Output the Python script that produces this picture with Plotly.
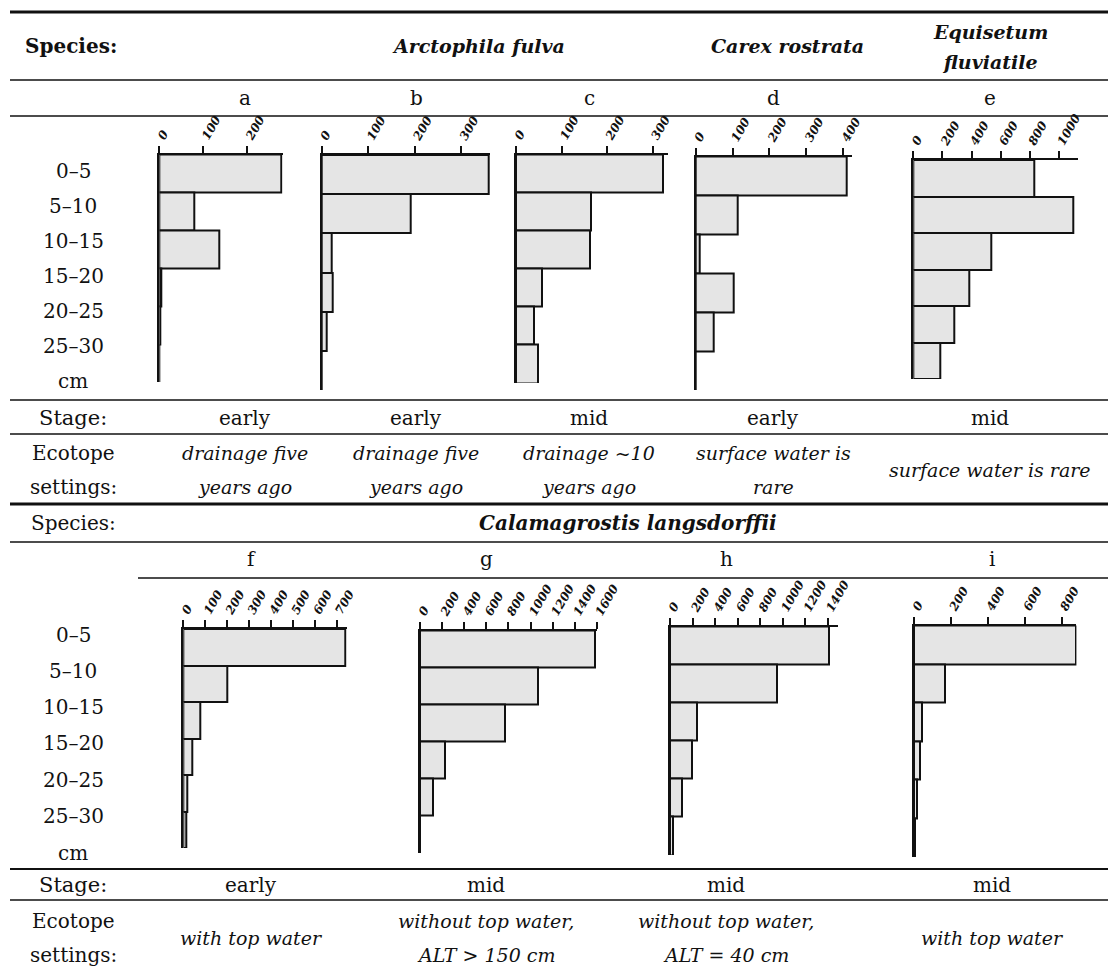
import plotly.graph_objects as go

W, H = 1108, 974

depth_labels = ["0–5", "5–10", "10–15", "15–20", "20–25", "25–30"]

# root counts by soil layer for each sample
roots_a = [278, 79, 136, 5, 2, 1]
roots_b = [360, 192, 21, 24, 11, 0]
roots_c = [322, 165, 163, 57, 40, 49]
roots_d = [409, 115, 10, 102, 50, 0]
roots_e = [829, 1100, 539, 385, 282, 183]
roots_f = [738, 203, 76, 43, 18, 15]
roots_g = [1584, 1065, 769, 226, 115, 0]
roots_h = [1416, 948, 243, 193, 109, 29]
roots_i = [877, 168, 42, 33, 18, 5]

ticks_a = [0, 100, 200]
ticks_b = [0, 100, 200, 300]
ticks_c = [0, 100, 200, 300]
ticks_d = [0, 100, 200, 300, 400]
ticks_e = [0, 200, 400, 600, 800, 1000]
ticks_f = [0, 100, 200, 300, 400, 500, 600, 700]
ticks_g = [0, 200, 400, 600, 800, 1000, 1200, 1400, 1600]
ticks_h = [0, 200, 400, 600, 800, 1000, 1200, 1400]
ticks_i = [0, 200, 400, 600, 800]

panel_letters = ["a", "b", "c", "d", "e", "f", "g", "h", "i"]
panel_values = [roots_a, roots_b, roots_c, roots_d, roots_e,
                roots_f, roots_g, roots_h, roots_i]
panel_ticks = [ticks_a, ticks_b, ticks_c, ticks_d, ticks_e,
               ticks_f, ticks_g, ticks_h, ticks_i]

stage_top = ["early", "early", "mid", "early", "mid"]
stage_bottom = ["early", "mid", "mid", "mid"]
ecotope_top = [["drainage five", "years ago"], ["drainage five", "years ago"],
               ["drainage ~10", "years ago"], ["surface water is", "rare"],
               ["surface water is rare"]]
ecotope_bottom = [["with top water"], ["without top water,", "ALT > 150 cm"],
                  ["without top water,", "ALT = 40 cm"], ["with top water"]]

# ---- page geometry (pixels) ----
# plot box of each panel: left, right, top, bottom, axis maximum
panel_box = [
    (159.3, 282.5, 154.5, 382, 280),
    (321.7, 490.0, 155.0, 390, 362),
    (516.0, 667.7, 154.5, 383, 333),
    (695.7, 852.0, 156.5, 390, 424),
    (913.3, 1078.0, 160.0, 379, 1132),
    (183.3, 346.7, 629.0, 848, 746),
    (420.0, 596.8, 630.5, 853, 1600),
    (670.0, 838.3, 626.5, 855, 1496),
    (914.0, 1076.4, 625.5, 857, 880),
]
col_top = [245, 416, 589, 773, 990]
col_bottom = [251, 486, 726, 992]
label_x = 73

FONT = "DejaVu Serif"
INK = "#111111"


def px(x):
    return x / W


def py(y):
    return 1 - y / H


fig = go.Figure()
layout = {}
for k, (letter, vals, ticks, box) in enumerate(
        zip(panel_letters, panel_values, panel_ticks, panel_box)):
    n = "" if k == 0 else str(k + 1)
    x0, x1, yt, yb, xmax = box
    fig.add_trace(go.Bar(
        x=vals, y=depth_labels, orientation="h", width=1,
        marker=dict(color="#e5e5e5", line=dict(color=INK, width=2)),
        xaxis="x" + n, yaxis="y" + n, showlegend=False, hoverinfo="x+y",
        name=letter,
    ))
    layout["xaxis" + n] = dict(
        domain=[px(x0), px(x1)], range=[0, xmax], anchor="y" + n,
        side="top", showline=True, linecolor=INK, linewidth=2,
        ticks="outside", ticklen=7, tickwidth=2, tickcolor=INK,
        tickvals=ticks, ticktext=[str(t) for t in ticks], tickangle=-60,
        tickfont=dict(family=FONT, size=12, color=INK, weight="bold",
                      style="italic"),
        ticklabelstandoff=-3,
        showgrid=False, zeroline=False, automargin=False, fixedrange=True,
    )
    layout["yaxis" + n] = dict(
        domain=[py(yb), py(yt)], anchor="x" + n, type="category",
        categoryorder="array", categoryarray=depth_labels,
        range=[5.5, -0.5], showline=True, linecolor=INK, linewidth=2,
        showticklabels=False, ticks="", showgrid=False, zeroline=False,
        automargin=False, fixedrange=True,
    )

annotations = []


def text(s, x, y, size=20, weight="normal", style="normal"):
    annotations.append(dict(
        text=s, x=px(x), y=py(y), xref="paper", yref="paper",
        xanchor="center", yanchor="middle", showarrow=False,
        font=dict(family=FONT, size=size, color=INK, weight=weight, style=style),
    ))


# ---- upper block ----
text("Species:", 71, 46, weight="bold")
text("Arctophila fulva", 478, 46, size=19, weight="bold", style="italic")
text("Carex rostrata", 787, 46, size=19, weight="bold", style="italic")
text("Equisetum", 990, 32, size=19, weight="bold", style="italic")
text("fluviatile", 990, 62, size=19, weight="bold", style="italic")
for c, letter in zip(col_top, panel_letters[:5]):
    text(letter, c, 98)
depth_y_top = [171, 206, 241, 276, 311, 346]
for lab, yy in zip(depth_labels, depth_y_top):
    text(lab, label_x, yy)
text("cm", label_x, 381)
text("Stage:", label_x, 418, size=21)
for c, s in zip(col_top, stage_top):
    text(s, c, 418)
text("Ecotope", label_x, 453)
text("settings:", label_x, 487)
for c, lines in zip(col_top, ecotope_top):
    if len(lines) == 2:
        text(lines[0], c, 453, size=19, style="italic")
        text(lines[1], c, 487, size=19, style="italic")
    else:
        text(lines[0], c, 470, size=19, style="italic")

# ---- lower block ----
text("Species:", label_x, 523)
text("Calamagrostis langsdorffii", 628, 523, weight="bold", style="italic")
for c, letter in zip(col_bottom, panel_letters[5:]):
    text(letter, c, 559)
depth_y_bottom = [635, 671, 707, 743, 780, 816]
for lab, yy in zip(depth_labels, depth_y_bottom):
    text(lab, label_x, yy)
text("cm", label_x, 853)
text("Stage:", label_x, 885, size=21)
for c, s in zip(col_bottom, stage_bottom):
    text(s, c, 885)
text("Ecotope", label_x, 921)
text("settings:", label_x, 955)
for c, lines in zip(col_bottom, ecotope_bottom):
    if len(lines) == 2:
        text(lines[0], c, 921, size=19, style="italic")
        text(lines[1], c, 955, size=19, style="italic")
    else:
        text(lines[0], c, 938, size=19, style="italic")

# ---- table rules ----
rules = [
    (10, 1108, 12, 3), (10, 1108, 80, 1.6), (10, 1108, 116, 1.6),
    (10, 1108, 400, 1.6), (10, 1108, 434, 1.6), (10, 1108, 504, 3.2),
    (10, 1108, 542, 1.6), (138, 1108, 578, 1.6), (10, 1108, 869, 1.8),
    (10, 1108, 900, 1.6),
]
shapes = [dict(type="line", xref="paper", yref="paper",
               x0=px(a), x1=px(b), y0=py(y), y1=py(y),
               line=dict(color=INK, width=w)) for a, b, y, w in rules]

fig.update_layout(
    width=W, height=H, margin=dict(l=0, r=0, t=0, b=0),
    paper_bgcolor="white", plot_bgcolor="rgba(0,0,0,0)",
    template="none", showlegend=False, bargap=0,
    annotations=annotations, shapes=shapes, **layout,
)

fig.write_html("out.html", config={"displayModeBar": False})
